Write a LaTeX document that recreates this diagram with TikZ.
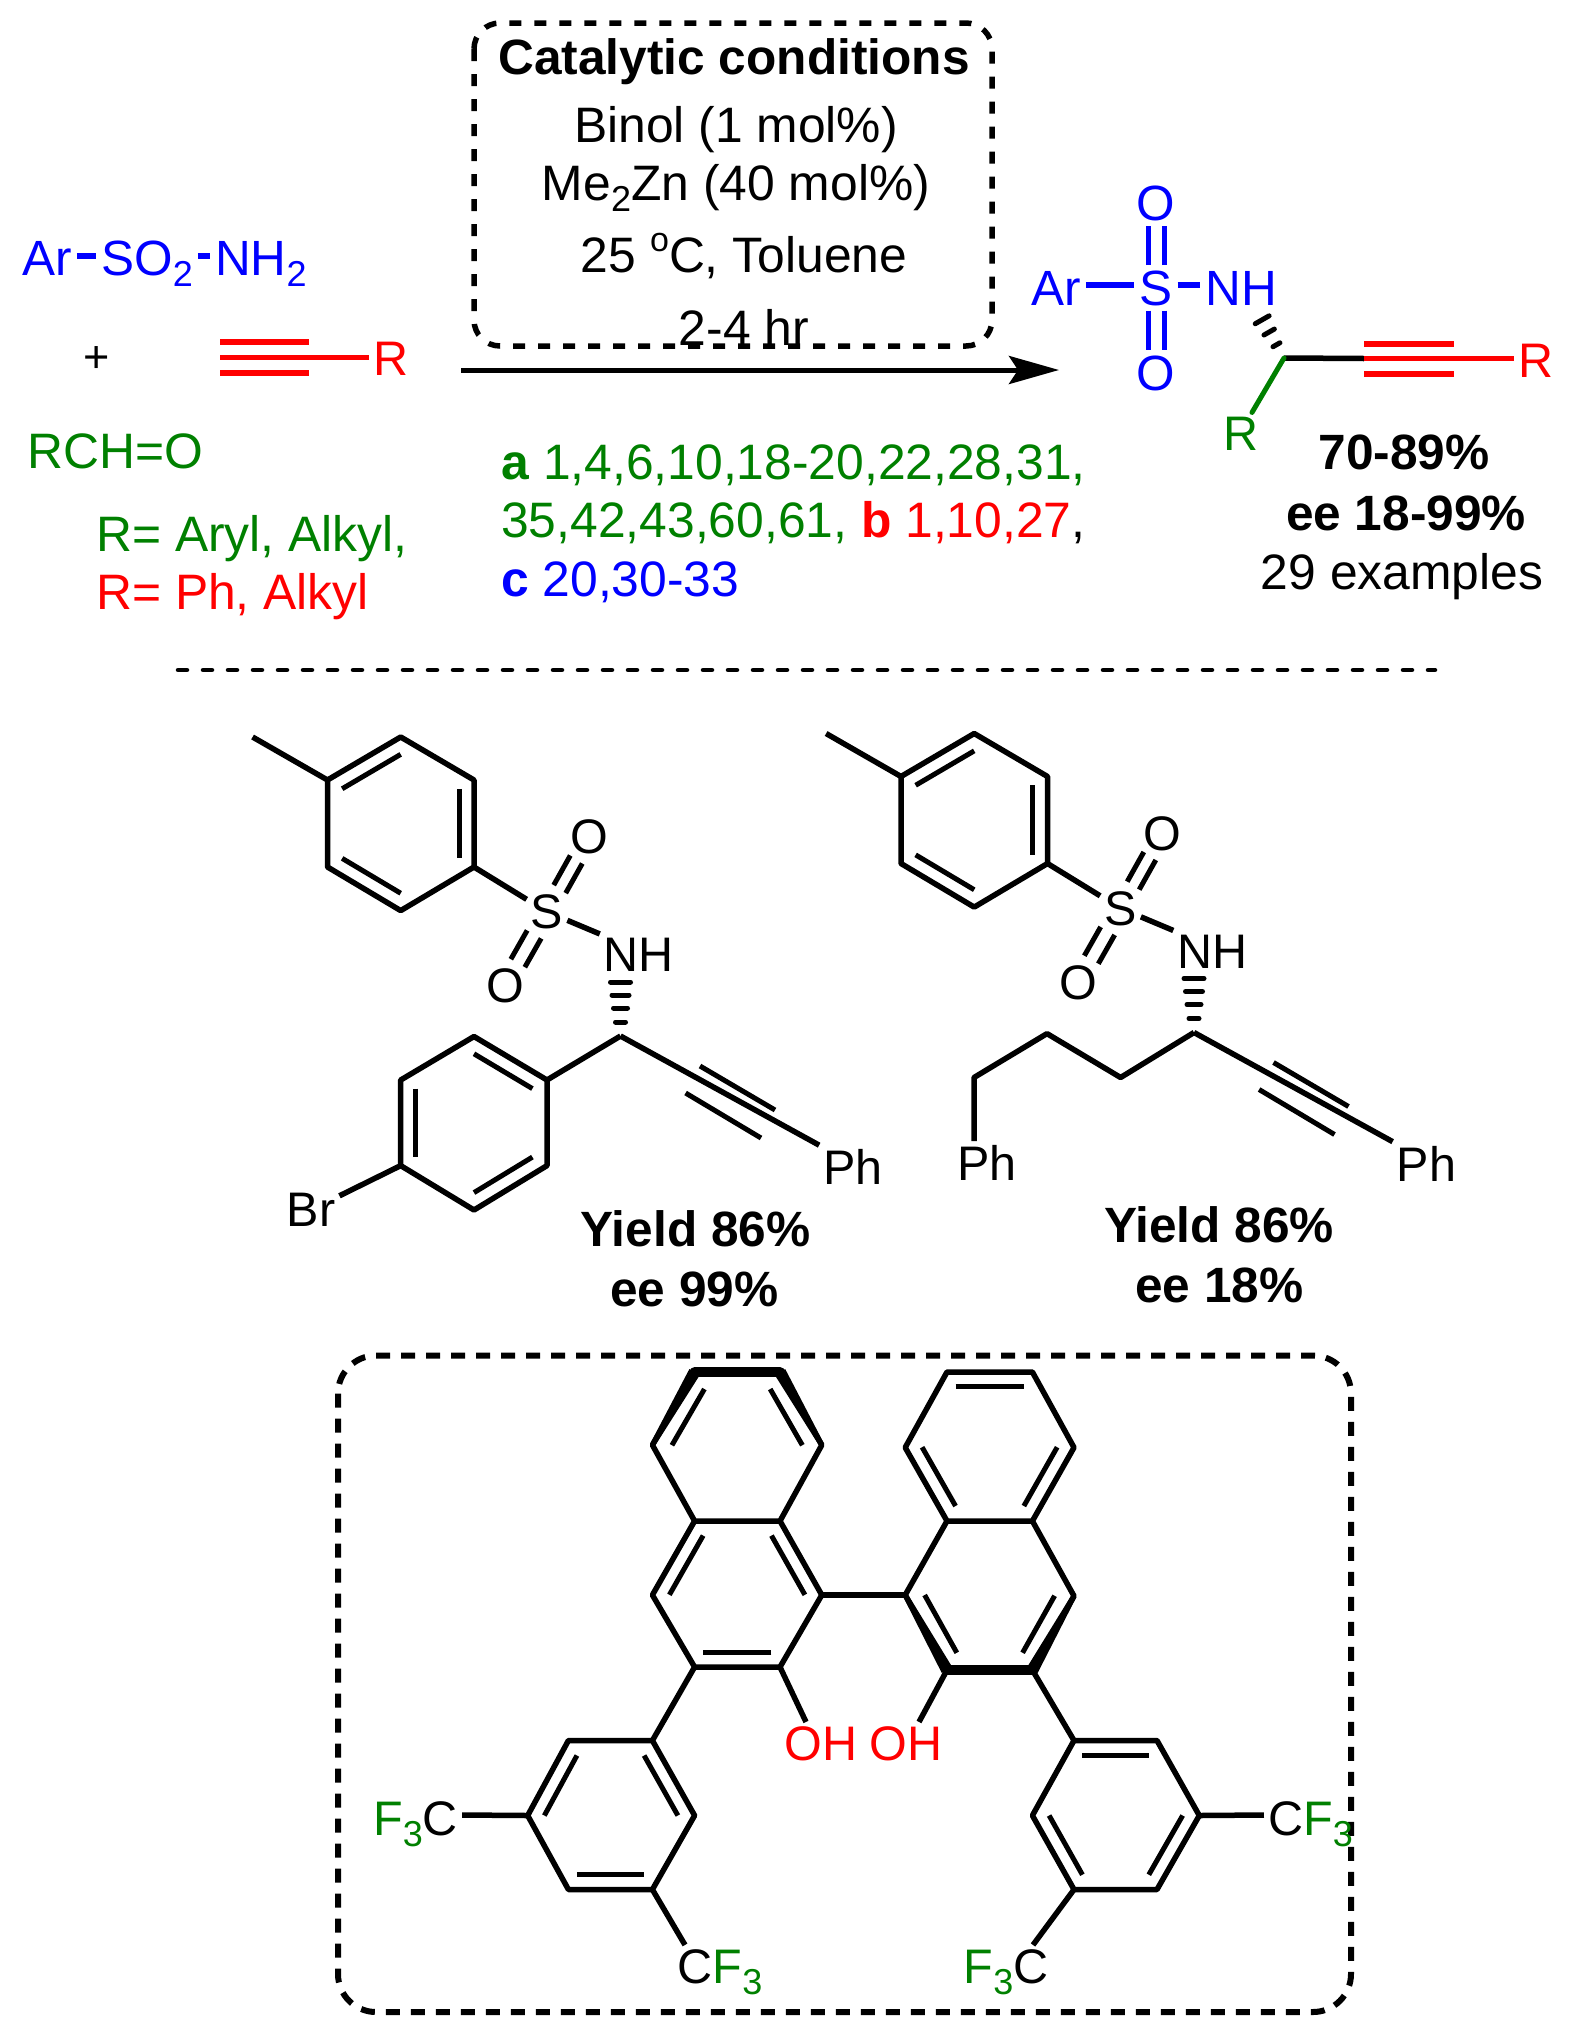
\documentclass[tikz,border=0pt]{standalone}
\usepackage{fontspec}
\setmainfont{Liberation Sans}
\usepackage{xcolor}
\usetikzlibrary{arrows.meta,calc,positioning}

\definecolor{chemgreen}{RGB}{0,128,0}
\newcommand{\lowidx}[1]{\raisebox{-0.24em}{\fontsize{36}{36}\selectfont #1}}
\newcommand{\upidx}[1]{\raisebox{0.42em}{\fontsize{34}{34}\selectfont #1}}
\newcommand{\wedgebond}[2]{\fill ($(#1)!2.6pt!90:(#2)$) -- ($(#2)!6pt!-90:(#1)$) -- ($(#2)!6pt!90:(#1)$) -- ($(#1)!2.6pt!-90:(#2)$) -- cycle;}

\begin{document}
\begin{tikzpicture}[x=1pt,y=-1pt,line join=round,
    txt/.style={anchor=base,inner sep=0pt,font=\fontsize{49.8}{49.8}\selectfont},
    leftxt/.style={txt,anchor=base west},
    btxt/.style={txt,font=\fontsize{49.6}{49.6}\selectfont\bfseries},
    atom/.style={anchor=base,inner sep=4pt,font=\fontsize{48.5}{48.5}\selectfont},
    bigatom/.style={atom,inner sep=5pt,font=\fontsize{49.5}{49.5}\selectfont},
    bond/.style={draw,line width=5.5pt},
    fatbond/.style={draw,line width=5.5pt},
    inbond/.style={draw,line width=5pt},
    frame/.style={draw,line width=6pt,dash pattern=on 14pt off 11pt}]

\useasboundingbox (0,0) rectangle (1570,2040);

\draw[frame,line width=5.5pt,dash pattern=on 12pt off 13pt,rounded corners=26pt] (474,23) rectangle (992,346);
\node[btxt] (title) at (734,74) {Catalytic conditions};
\node[txt] (binol) at (736,142) {Binol (1 mol\%)};
\node[txt] (zinc) at (736,200) {Me\lowidx{2}Zn (40 mol\%)};
\node[txt] (temp) at (744,272) {25 \upidx{o}C, Toluene};
\node[txt] (time) at (744,345) {2-4 hr};

\node[bigatom,text=blue] (arL) at (47,275) {Ar};
\node[bigatom,text=blue] (so2) at (147,275) {SO\lowidx{2}};
\node[bigatom,text=blue] (nh2) at (261,275) {NH\lowidx{2}};
\draw[fatbond,blue] ([yshift=19pt]arL.base east) -- ([yshift=19pt]so2.base west);
\draw[fatbond,blue] ([yshift=19pt]so2.base east) -- ([yshift=19pt]nh2.base west);

\node[atom,font=\fontsize{45}{45}\selectfont] (plus) at (97,372) {+};

\coordinate (yneA) at (220,342);
\coordinate (yneB) at (309,342);
\coordinate (yneC) at (220,357.5);
\coordinate (yneD) at (220,373);
\coordinate (yneE) at (309,373);
\node[atom,text=red] (rRed) at (391,375) {R};
\path[draw=red,line width=5.5pt]
    (yneA) edge (yneB)
    (yneD) edge (yneE)
    (yneC) edge ([yshift=17.5pt]rRed.base west);

\node[txt,text=chemgreen] (rcho) at (115,468) {RCH=O};
\node[leftxt,text=chemgreen] (rGreen) at (96,551) {R= Aryl, Alkyl,};
\node[leftxt,text=red] (rPh) at (96,609) {R= Ph, Alkyl};

\node[leftxt,text=chemgreen] (refA) at (501,479) {\textbf{a} 1,4,6,10,18-20,22,28,31,};
\node[leftxt,text=chemgreen] (refB) at (501,537) {35,42,43,60,61, \textcolor{red}{\textbf{b} 1,10,27}\textcolor{black}{,}};
\node[leftxt,text=blue] (refC) at (501,596) {\textbf{c} 20,30-33};

\coordinate (arrowA) at (461,370);
\coordinate (arrowB) at (1059,370);
\draw[line width=5pt,-{Stealth[length=50pt,width=28pt,inset=9pt]}] (arrowA) -- (arrowB);

\node[bigatom,text=blue] (arP) at (1056,305) {Ar};
\node[bigatom,text=blue] (sP) at (1156,305) {S};
\node[bigatom,text=blue] (nhP) at (1241,305) {NH};
\node[bigatom,text=blue] (oTop) at (1156,220) {O};
\node[bigatom,text=blue] (oBot) at (1156,390) {O};
\draw[fatbond,blue] ([yshift=20pt]arP.base east) -- ([yshift=20pt]sP.base west);
\draw[fatbond,blue] ([yshift=20pt]sP.base east) -- ([yshift=20pt]nhP.base west);
\foreach \dx in {-8,8} {
    \draw[inbond,blue] ([xshift=\dx pt]sP.north) -- ([xshift=\dx pt]oTop.south);
    \draw[inbond,blue] ([xshift=\dx pt]sP.south) -- ([xshift=\dx pt]oBot.north);
}
\coordinate (cP) at (1284,358);
\coordinate (hashP) at (1256,309);
\foreach \p/\w in {.22/8,.47/6,.73/4} {
    \draw[line width=5pt,line cap=round] ($($(hashP)!\p!(cP)$)!\w pt!90:(cP)$) -- ($($(hashP)!\p!(cP)$)!\w pt!-90:(cP)$);
}
\coordinate (yneF) at (1364,344);
\coordinate (yneG) at (1454,344);
\coordinate (yneH) at (1364,358.5);
\coordinate (yneI) at (1364,374);
\coordinate (yneJ) at (1454,374);
\node[atom,text=chemgreen] (rBot) at (1241,450) {R};
\node[atom,text=red] (rEnd) at (1536,377) {R};
\draw[line width=5.5pt] (cP) -- (yneH);
\draw[line width=5pt,chemgreen,line cap=round] (cP) -- ([xshift=11pt]rBot.north);
\path[draw=red,line width=5.5pt]
    (yneF) edge (yneG)
    (yneI) edge (yneJ)
    (yneH) edge ([yshift=18.5pt]rEnd.base west);
\node[btxt] (yield) at (1404,469) {70-89\%};
\node[btxt] (eeP) at (1406,530) {ee 18-99\%};
\node[txt] (count) at (1402,589) {29 examples};

\coordinate (ruleA) at (178,670);
\coordinate (ruleB) at (1435,670);
\draw[line width=4.5pt,line cap=round,dash pattern=on 9pt off 16pt] (ruleA) -- (ruleB);

\foreach \pre/\dx/\dy in {l/0/0,r/573.5/-3.5} {
\begin{scope}[shift={(\dx,\dy)},name prefix=\pre-]
    \coordinate (me) at (252.6,737);
    \coordinate (t1) at (400.7,737);
    \coordinate (t2) at (474,780);
    \coordinate (t3) at (474,867);
    \coordinate (t4) at (400.7,910.6);
    \coordinate (t5) at (327.5,867);
    \coordinate (t6) at (327.5,780);
    \coordinate (tc) at (400.7,823.8);
    \node[atom] (S) at (547,928.5) {S};
    \node[atom] (O1) at (589,853.5) {O};
    \node[atom] (O2) at (505,1002.5) {O};
    \node[atom] (NH) at (639,971.5) {NH};
    \node[atom] (Ph) at (853,1184.5) {Ph};
    \coordinate (cs) at (620.5,1036);
    \draw[bond] (t1) -- (t2) -- (t3) -- (t4) -- (t5) -- (t6) -- cycle;
    \draw[bond] (me) -- (t6);
    \draw[bond] (t3) -- (S);
    \draw[bond] (S) -- (NH.north west);
    \foreach \a/\b in {t1/t6,t2/t3,t4/t5} {
        \draw[inbond] ($(\a)!.2!(tc)$) -- ($(\b)!.2!(tc)$);
    }
    \foreach \sx/\sy in {-6/-4,6/4} {
        \draw[inbond,shorten <=26pt,shorten >=26pt] ($(S.center)+(\sx,\sy)$) -- ($(O1.center)+(\sx,\sy)$);
    }
    \foreach \sx/\sy in {-7/-4,7/4} {
        \draw[inbond,shorten <=26pt,shorten >=26pt] ($(S.center)+(\sx,\sy)$) -- ($(O2.center)+(\sx,\sy)$);
    }
    \foreach \yy/\w in {982/10,995/8.5,1008/7,1022/5} {
        \draw[line width=5pt,line cap=round] (620.5-\w,\yy) -- (620.5+\w,\yy);
    }
    \coordinate (sideA) at (700,1066);
    \coordinate (sideB) at (775,1110);
    \coordinate (sideC) at (685.6,1093);
    \coordinate (sideD) at (761,1138);
    \draw[bond] (cs) -- (Ph.north west);
    \draw[inbond] (sideA) -- (sideB);
    \draw[inbond] (sideC) -- (sideD);
\end{scope}
}

\coordinate (b1) at (547,1080);
\coordinate (b2) at (474,1036.5);
\coordinate (b3) at (400.7,1080);
\coordinate (b4) at (400.7,1165.6);
\coordinate (b5) at (474,1210);
\coordinate (b6) at (547,1165.6);
\coordinate (bc) at (474,1123);
\node[atom] (Br) at (311,1226.5) {Br};
\draw[bond] (b1) -- (b2) -- (b3) -- (b4) -- (b5) -- (b6) -- cycle;
\draw[bond] (l-cs) -- (b1);
\draw[bond] (b4) -- (Br);
\foreach \a/\b in {b1/b2,b3/b4,b5/b6} {
    \draw[inbond] ($(\a)!.2!(bc)$) -- ($(\b)!.2!(bc)$);
}
\node[btxt] (yieldL) at (695.5,1246) {Yield 86\%};
\node[btxt] (eeL) at (694.5,1306) {ee 99\%};

\coordinate (ch1) at (1120.6,1077.5);
\coordinate (ch2) at (1047,1033.6);
\coordinate (ch3) at (974,1077.5);
\node[atom] (PhC) at (987,1180.5) {Ph};
\draw[bond] (r-cs) -- (ch1) -- (ch2) -- (ch3) -- (ch3 |- PhC.north);
\node[btxt] (yieldR) at (1219,1242) {Yield 86\%};
\node[btxt] (eeR) at (1219.5,1302) {ee 18\%};

\draw[frame,rounded corners=38pt] (338,1355.5) rectangle (1351,2012);

\coordinate (a1) at (694.6,1372);
\coordinate (a2) at (780,1372);
\coordinate (a3) at (821.8,1445);
\coordinate (a4) at (780,1521);
\coordinate (a5) at (694.6,1521);
\coordinate (a6) at (652.4,1445);
\coordinate (ac) at (737.3,1446);
\coordinate (a7) at (821.8,1595);
\coordinate (a8) at (780,1667);
\coordinate (a9) at (694.6,1667);
\coordinate (a10) at (652.4,1595);
\coordinate (ad) at (737.3,1594);
\coordinate (c1) at (947,1372);
\coordinate (c2) at (1032.4,1372);
\coordinate (c3) at (1074,1447.5);
\coordinate (c4) at (1032.4,1521);
\coordinate (c5) at (947,1521);
\coordinate (c6) at (905.2,1447.5);
\coordinate (cc) at (989.7,1446);
\coordinate (c7) at (1074,1596);
\coordinate (c8) at (1032.4,1670);
\coordinate (c9) at (947,1670);
\coordinate (c10) at (905.2,1595);
\coordinate (cd) at (989.7,1595);
\draw[bond] (a1) -- (a2) -- (a3) -- (a4) -- (a5) -- (a6) -- cycle;
\draw[bond] (a4) -- (a7) -- (a8) -- (a9) -- (a10) -- (a5);
\draw[bond] (c1) -- (c2) -- (c3) -- (c4) -- (c5) -- (c6) -- cycle;
\draw[bond] (c4) -- (c7) -- (c8) -- (c9) -- (c10) -- (c5);
\draw[bond] (a7) -- (c10);
\draw[line width=10pt,line cap=round] (a1) -- (a2);
\draw[line width=10pt,line cap=round] (c8) -- (c9);
\wedgebond{a6}{a1}
\wedgebond{a3}{a2}
\wedgebond{c10}{c9}
\wedgebond{c7}{c8}
\foreach \a/\b in {a1/a6,a2/a3} {
    \draw[inbond] ($(\a)!.23!(ac)$) -- ($(\b)!.23!(ac)$);
}
\foreach \a/\b in {a4/a7,a5/a10,a8/a9} {
    \draw[inbond] ($(\a)!.2!(ad)$) -- ($(\b)!.2!(ad)$);
}
\foreach \a/\b in {c1/c2,c3/c4,c5/c6} {
    \draw[inbond] ($(\a)!.2!(cc)$) -- ($(\b)!.2!(cc)$);
}
\foreach \a/\b in {c7/c8,c9/c10} {
    \draw[inbond] ($(\a)!.23!(cd)$) -- ($(\b)!.23!(cd)$);
}

\coordinate (e1) at (652.4,1740.5);
\coordinate (e2) at (568.4,1740.5);
\coordinate (e3) at (527.7,1815.5);
\coordinate (e4) at (568.4,1889.5);
\coordinate (e5) at (652.4,1889.5);
\coordinate (e6) at (694.6,1815.5);
\coordinate (ec) at (611,1815.5);
\coordinate (f1) at (1074,1740.5);
\coordinate (f2) at (1157,1740.5);
\coordinate (f3) at (1199.3,1815.5);
\coordinate (f4) at (1157,1889.5);
\coordinate (f5) at (1074,1889.5);
\coordinate (f6) at (1032.4,1815.5);
\coordinate (fc) at (1116,1815.5);
\draw[bond] (e1) -- (e2) -- (e3) -- (e4) -- (e5) -- (e6) -- cycle;
\draw[bond] (f1) -- (f2) -- (f3) -- (f4) -- (f5) -- (f6) -- cycle;
\draw[bond] (a9) -- (e1);
\draw[bond] (c8) -- (f1);
\foreach \a/\b in {e1/e6,e2/e3,e4/e5} {
    \draw[inbond] ($(\a)!.2!(ec)$) -- ($(\b)!.2!(ec)$);
}
\foreach \a/\b in {f1/f2,f3/f4,f5/f6} {
    \draw[inbond] ($(\a)!.2!(fc)$) -- ($(\b)!.2!(fc)$);
}

\node[atom,text=red] (ohL) at (821,1760) {OH};
\node[atom,text=red] (ohR) at (906,1760) {OH};
\node[atom] (f3cL) at (415.5,1835) {\textcolor{chemgreen}{F\lowidx{3}}C};
\node[atom] (cf3B) at (720,1983) {C\textcolor{chemgreen}{F\lowidx{3}}};
\node[atom] (cf3R) at (1310.5,1835) {C\textcolor{chemgreen}{F\lowidx{3}}};
\node[atom] (f3cB) at (1006,1983) {\textcolor{chemgreen}{F\lowidx{3}}C};
\draw[bond] (a8) -- ([xshift=-15pt]ohL.north);
\draw[bond] (c9) -- ([xshift=13pt]ohR.north);
\draw[bond] ([yshift=20pt]f3cL.base east) -- (e3);
\draw[bond] (e5) -- ([xshift=-35pt]cf3B.north);
\draw[bond] (f3) -- ([yshift=20pt]cf3R.base west);
\draw[bond] (f5) -- ([xshift=27pt]f3cB.north);

\end{tikzpicture}
\end{document}
